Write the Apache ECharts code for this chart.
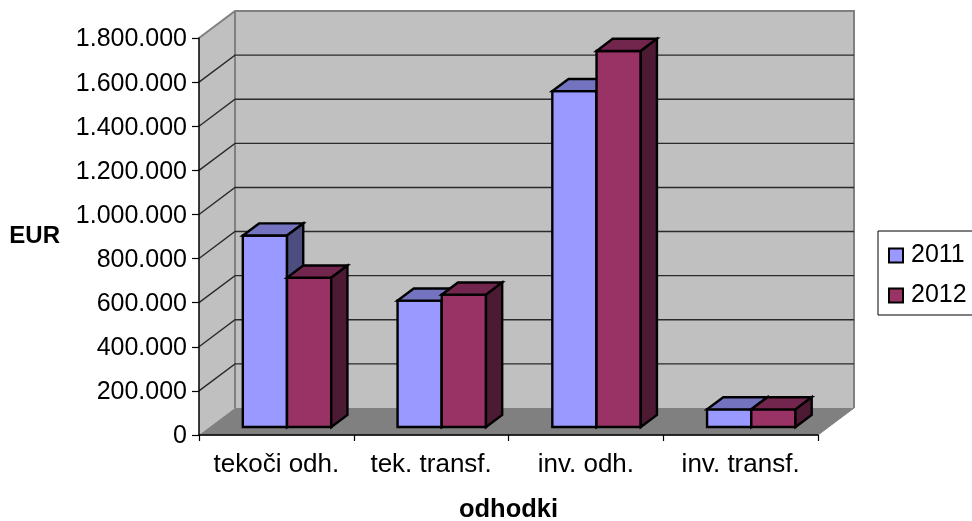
<!DOCTYPE html>
<html>
<head>
<meta charset="utf-8">
<style>
  html, body { margin: 0; padding: 0; background: #fff; }
  #chart { width: 972px; height: 521px; }
</style>
<script src="https://cdn.jsdelivr.net/npm/echarts@6/dist/echarts.min.js"></script>
</head>
<body>
<div id="chart"></div>
<script>
const categories = ['tekoči odh.', 'tek. transf.', 'inv. odh.', 'inv. transf.'];
const values2011 = [868000, 573000, 1523000, 80000];
const values2012 = [677000, 600000, 1705000, 80000];
const yTicks = [200000, 400000, 600000, 800000, 1000000, 1200000, 1400000, 1600000, 1800000];

// oblique projection of the excel style 3d box
const DEPTH_X = 36;
const DEPTH_Y = -27;
const BAR_START = 0.296;
const BAR_DEPTH = 0.45;
const FONT = '"Liberation Sans", Arial, sans-serif';

function poly(points, fill, stroke, width) {
  return {
    type: 'polygon',
    shape: { points: points },
    style: { fill: fill, stroke: stroke, lineWidth: width, lineJoin: 'miter' }
  };
}

function renderWalls(params) {
  const c = params.coordSys;
  const l = c.x, r = c.x + c.width, t = c.y, b = c.y + c.height;
  const dx = DEPTH_X, dy = DEPTH_Y;
  return {
    type: 'group',
    children: [
      poly([[l, b], [r, b], [r + dx, b + dy], [l + dx, b + dy]], '#808080', '#808080', 1),
      poly([[l, t], [l + dx, t + dy], [l + dx, b + dy], [l, b]], '#c0c0c0', 'none', 0),
      poly([[l + dx, t + dy], [r + dx, t + dy], [r + dx, b + dy], [l + dx, b + dy]], '#c0c0c0', 'none', 0),
      {
        type: 'polyline',
        shape: { points: [[l, t], [l + dx, t + dy], [r + dx, t + dy], [r + dx, b + dy]] },
        style: { fill: 'none', stroke: '#808080', lineWidth: 2 }
      },
      {
        type: 'line',
        shape: { x1: l + dx, y1: t + dy, x2: l + dx, y2: b + dy },
        style: { stroke: '#808080', lineWidth: 2 }
      }
    ]
  };
}

function renderGrid(params, api) {
  const c = params.coordSys;
  const y = api.coord([0, api.value(0)])[1];
  if (api.value(0) === yTicks[yTicks.length - 1]) return null;
  return {
    type: 'polyline',
    shape: { points: [[c.x, y], [c.x + DEPTH_X, y + DEPTH_Y], [c.x + c.width + DEPTH_X, y + DEPTH_Y]] },
    style: { fill: 'none', stroke: '#2a2a2a', lineWidth: 1.4 }
  };
}

function makeBarRenderer(side, front, top, right) {
  return function (params, api) {
    const mid = api.coord([api.value(0), 0]);
    const high = api.coord([api.value(0), api.value(1)]);
    const w = api.size([1, 0])[0] / 3.5;
    const ox = DEPTH_X * BAR_START, oy = DEPTH_Y * BAR_START;
    const dx = DEPTH_X * BAR_DEPTH, dy = DEPTH_Y * BAR_DEPTH;
    const x0 = mid[0] + ox + (side < 0 ? -w : 0);
    const x1 = x0 + w;
    const y0 = mid[1] + oy;
    const y1 = high[1] + oy;
    return {
      type: 'group',
      children: [
        poly([[x0, y0], [x1, y0], [x1, y1], [x0, y1]], front, '#000', 2.4),
        poly([[x0, y1], [x1, y1], [x1 + dx, y1 + dy], [x0 + dx, y1 + dy]], top, '#000', 2.4),
        poly([[x1, y1], [x1 + dx, y1 + dy], [x1 + dx, y0 + dy], [x1, y0]], right, '#000', 2.4)
      ]
    };
  };
}

const chart = echarts.init(document.getElementById('chart'));

chart.setOption({
  animation: false,
  backgroundColor: '#fff',
  textStyle: { fontFamily: FONT },
  grid: { left: 199, right: 154, top: 38, bottom: 86, containLabel: false, outerBoundsMode: 'none' },
  legend: {
    orient: 'vertical',
    left: 878,
    top: 231,
    padding: [12, 10, 7, 10],
    itemGap: 15,
    itemWidth: 14,
    itemHeight: 14,
    borderColor: '#000',
    borderWidth: 1,
    textStyle: { fontFamily: FONT, fontSize: 25, color: '#000', padding: [0, 0, 0, 3] },
    data: [
      { name: '2011', icon: 'rect', itemStyle: { color: '#9999ff', borderColor: '#000', borderWidth: 2 } },
      { name: '2012', icon: 'rect', itemStyle: { color: '#993366', borderColor: '#000', borderWidth: 2 } }
    ]
  },
  xAxis: {
    type: 'category',
    data: categories,
    z: 2,
    name: 'odhodki',
    nameLocation: 'middle',
    nameGap: 62,
    nameTextStyle: { fontFamily: FONT, fontSize: 25.5, fontWeight: 'bold', color: '#000' },
    axisLine: { lineStyle: { color: '#000', width: 1.5 } },
    axisTick: { show: true, length: 6, lineStyle: { color: '#000', width: 1.2 } },
    axisLabel: { fontFamily: FONT, fontSize: 26, color: '#000', margin: 17, interval: 0 },
    splitLine: { show: false }
  },
  yAxis: {
    type: 'value',
    min: 0,
    max: 1800000,
    interval: 200000,
    z: 2,
    name: 'EUR',
    nameLocation: 'middle',
    nameRotate: 0,
    nameGap: 139,
    nameTextStyle: { fontFamily: FONT, fontSize: 24, fontWeight: 'bold', color: '#000' },
    axisLine: { show: true, lineStyle: { color: '#000', width: 1.5 } },
    axisTick: { show: true, length: 7, lineStyle: { color: '#000', width: 1.2 } },
    axisLabel: {
      fontFamily: FONT,
      fontSize: 25,
      color: '#000',
      margin: 12,
      verticalAlign: 'top',
      lineHeight: 3,
      formatter: (v) => String(v).replace(/\B(?=(\d{3})+$)/g, '.')
    },
    splitLine: { show: false }
  },
  series: [
    { type: 'custom', z: 1, silent: true, clip: false, data: [[0, 0]], renderItem: renderWalls },
    { type: 'custom', z: 1, silent: true, clip: false, data: yTicks.map((v) => [v]), encode: { y: 0 }, renderItem: renderGrid },
    {
      type: 'custom',
      name: '2011',
      z: 3,
      clip: false,
      itemStyle: { color: '#9999ff' },
      data: values2011.map((v, i) => [i, v]),
      encode: { x: 0, y: 1 },
      renderItem: makeBarRenderer(-1, '#9999ff', '#7373bf', '#4d4d80')
    },
    {
      type: 'custom',
      name: '2012',
      z: 4,
      clip: false,
      itemStyle: { color: '#993366' },
      data: values2012.map((v, i) => [i, v]),
      encode: { x: 0, y: 1 },
      renderItem: makeBarRenderer(1, '#993366', '#73264d', '#4d1a33')
    }
  ]
});
</script>
</body>
</html>
